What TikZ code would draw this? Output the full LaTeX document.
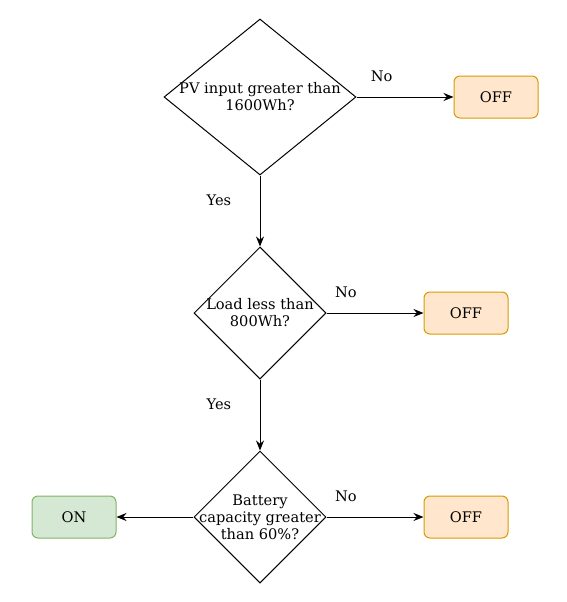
\documentclass[tikz,border=0pt]{standalone}
\usepackage{fontspec}
\setmainfont{DejaVu Serif}
\usetikzlibrary{arrows.meta,positioning,shapes.geometric}
\definecolor{OffFill}{HTML}{FFE6CC}
\definecolor{OffLine}{HTML}{D79B00}
\definecolor{OnFill}{HTML}{D5E8D4}
\definecolor{OnLine}{HTML}{82B366}
\tikzset{
 decision/.style={diamond, draw, line width=1pt, inner sep=-16pt, align=center, font=\fontsize{14.6}{17}\selectfont},
 offbox/.style={draw=OffLine, fill=OffFill, rounded corners=6pt, minimum width=84pt, minimum height=42pt, line width=1pt, font=\fontsize{14.6}{17}\selectfont},
 onbox/.style={offbox, draw=OnLine, fill=OnFill},
 arrow/.style={-{Stealth[length=10pt,width=8pt]}, line width=1pt},
 edgelabel/.style={font=\fontsize{14.6}{17}\selectfont}
}

\begin{document}
\begin{tikzpicture}[x=1pt,y=1pt]
\useasboundingbox (0,0) rectangle (567,-602);
\node[decision, minimum width=192pt, minimum height=156pt] (pv) at (260,-97) {PV input greater than\\1600Wh?};
\node[decision, minimum width=132pt, minimum height=132pt, below=71pt of pv] (load) {Load less than\\800Wh?};
\node[decision, minimum width=132pt, minimum height=132pt, below=71pt of load] (batt) {Battery\\capacity greater\\than 60\%?};
\node[offbox, right=97pt of pv] (off1) {OFF};
\node[offbox, right=97pt of load] (off2) {OFF};
\node[offbox, right=97pt of batt] (off3) {OFF};
\node[onbox, left=77pt of batt] (on) {ON};
% no branches
\draw[arrow] (pv) -- node[edgelabel, pos=0.26, above=11pt] {No} (off1);
\draw[arrow] (load) -- node[edgelabel, pos=0.2, above=11pt] {No} (off2);
\draw[arrow] (batt) -- node[edgelabel, pos=0.2, above=11pt] {No} (off3);
% yes branches
\draw[arrow] (pv) -- node[edgelabel, pos=0.35, left=25pt] {Yes} (load);
\draw[arrow] (load) -- node[edgelabel, pos=0.35, left=25pt] {Yes} (batt);
\draw[arrow] (batt) -- (on);
\end{tikzpicture}
\end{document}
